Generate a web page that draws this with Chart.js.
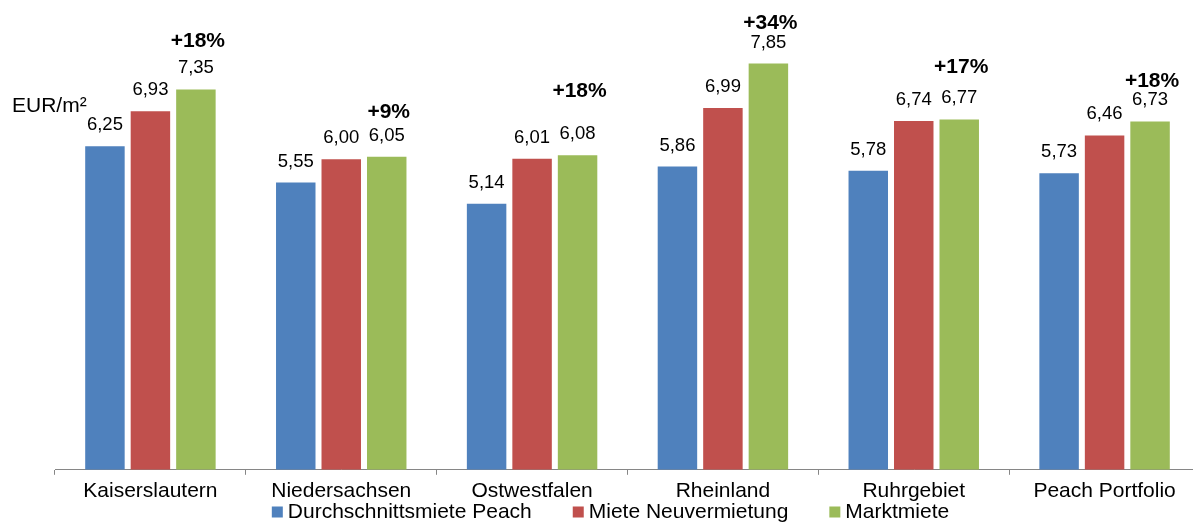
<!DOCTYPE html>
<html>
<head>
<meta charset="utf-8">
<script src="https://cdn.jsdelivr.net/npm/chart.js@4/dist/chart.umd.min.js"></script>
<style>
  html, body { margin:0; padding:0; background:#fff; }
  #wrap { width:1193px; height:523px; overflow:hidden; position:relative; }
</style>
</head>
<body>
<div id="wrap"><canvas id="c" width="1201" height="523"></canvas></div>
<script>
/* data */
const regions = ['Kaiserslautern', 'Niedersachsen', 'Ostwestfalen', 'Rheinland', 'Ruhrgebiet', 'Peach Portfolio'];
const avgRent = [6.25, 5.55, 5.14, 5.86, 5.78, 5.73];
const newLetting = [6.93, 6.00, 6.01, 6.99, 6.74, 6.46];
const marketRent = [7.35, 6.05, 6.08, 7.85, 6.77, 6.73];
const upside = ['+18%', '+9%', '+18%', '+34%', '+17%', '+18%'];
// height (EUR/m²) at which each upside label sits
const upsideAt = [8.16, 6.79, 7.20, 8.51, 7.66, 7.39];
const unitLabel = 'EUR/m²';

const FONT = '"Liberation Sans", Arial, sans-serif';
const fmt = v => v.toFixed(2).replace('.', ',');

const labelPlugin = {
  id: 'labels',
  afterDatasetsDraw(chart){
    const ctx = chart.ctx;
    const y = chart.scales.y;
    ctx.save();
    ctx.fillStyle = '#000';
    ctx.textAlign = 'center';
    ctx.textBaseline = 'alphabetic';
    ctx.font = '18.5px ' + FONT;
    chart.data.datasets.forEach((ds, di) => {
      chart.getDatasetMeta(di).data.forEach((bar, i) => {
        ctx.fillText(fmt(ds.data[i]), bar.x, bar.y - 16);
      });
    });
    // upside percentages over the market rent bars
    ctx.font = 'bold 21px ' + FONT;
    const green = chart.getDatasetMeta(2).data;
    upside.forEach((t, i) => {
      ctx.fillText(t, green[i].x + 2, y.getPixelForValue(upsideAt[i]));
    });
    // unit label
    ctx.font = '21px ' + FONT;
    ctx.textAlign = 'left';
    ctx.textBaseline = 'middle';
    ctx.fillText(unitLabel, 12, 106);
    ctx.restore();
  }
};

const legendPlugin = {
  id: 'bottomLegend',
  afterDraw(chart){
    const ctx = chart.ctx;
    ctx.save();
    ctx.font = '21px ' + FONT;
    ctx.textBaseline = 'middle';
    ctx.textAlign = 'left';
    const box = 11, gap = 5, spacing = 41, cy = 512;
    const items = chart.data.datasets.map(ds => ({ text: ds.label, color: ds.backgroundColor, w: ctx.measureText(ds.label).width }));
    const total = items.reduce((s, it) => s + box + gap + it.w, 0) + spacing * (items.length - 1);
    let x = 610.5 - total / 2;
    items.forEach(it => {
      ctx.fillStyle = it.color;
      ctx.fillRect(x, cy - box / 2, box, box);
      x += box + gap;
      ctx.fillStyle = '#000';
      ctx.fillText(it.text, x, cy);
      x += it.w + spacing;
    });
    ctx.restore();
  }
};

new Chart(document.getElementById('c').getContext('2d'), {
  type: 'bar',
  data: {
    labels: regions,
    datasets: [
      { label: 'Durchschnittsmiete Peach', data: avgRent, backgroundColor: '#4F81BD' },
      { label: 'Miete Neuvermietung', data: newLetting, backgroundColor: '#C0504D' },
      { label: 'Marktmiete', data: marketRent, backgroundColor: '#9BBB59' }
    ]
  },
  options: {
    responsive: false,
    animation: false,
    devicePixelRatio: 1,
    categoryPercentage: 0.715,
    barPercentage: 0.868,
    layout: { padding: { left: 55, right: 1, top: 4, bottom: 15 } },
    scales: {
      x: {
        grid: { display: true, offset: true, drawOnChartArea: false, drawTicks: true, tickLength: 5, color: '#868686' },
        border: { display: true, color: '#868686', width: 1 },
        ticks: { color: '#000', font: { family: FONT, size: 21 }, padding: 4, maxRotation: 0, autoSkip: false }
      },
      y: { display: false, min: 0, max: 9 }
    },
    plugins: { legend: { display: false }, tooltip: { enabled: false } }
  },
  plugins: [labelPlugin, legendPlugin]
});
</script>
</body>
</html>
